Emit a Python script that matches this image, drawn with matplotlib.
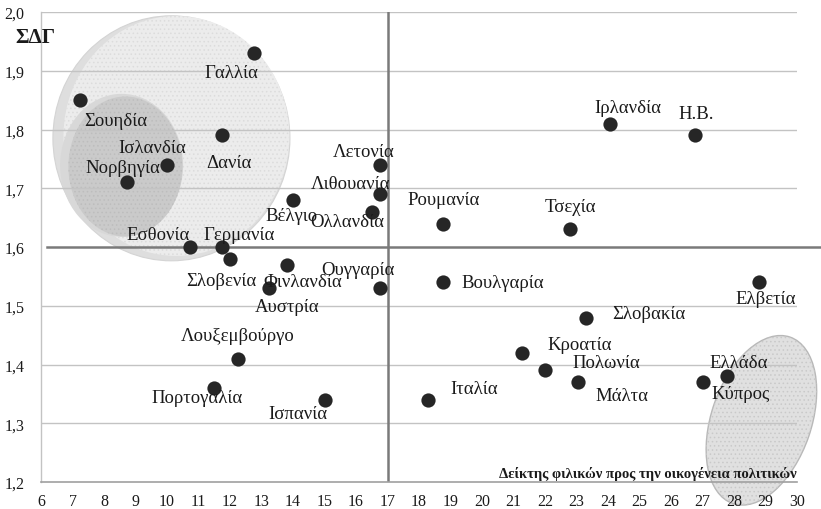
import matplotlib
matplotlib.use("Agg")
import matplotlib.pyplot as plt
import matplotlib.transforms as mtransforms
from matplotlib.patches import Ellipse
from matplotlib.ticker import FuncFormatter

# --- data ---
countries = ["Γαλλία", "Σουηδία", "Ισλανδία", "Νορβηγία", "Δανία", "Λετονία",
             "Λιθουανία", "Βέλγιο", "Ολλανδία", "Εσθονία", "Γερμανία", "Ρουμανία",
             "Τσεχία", "Ιρλανδία", "Η.Β.", "Σλοβενία", "Φινλανδία", "Ουγγαρία",
             "Αυστρία", "Λουξεμβούργο", "Πορτογαλία", "Ισπανία", "Βουλγαρία",
             "Ελβετία", "Σλοβακία", "Κροατία", "Πολωνία", "Ελλάδα", "Κύπρος",
             "Μάλτα", "Ιταλία"]
family_index = [12.76, 7.24, 10.0, 8.73, 11.75, 16.76,
                16.76, 14.0, 16.5, 10.73, 11.75, 18.76,
                22.8, 24.05, 26.76, 12.0, 13.8, 16.76,
                13.24, 12.25, 11.5, 15.0, 18.76,
                28.8, 23.3, 21.27, 22.0, 27.78, 27.0,
                23.05, 18.29]
sdg = [1.93, 1.85, 1.74, 1.71, 1.79, 1.74,
       1.69, 1.68, 1.66, 1.60, 1.60, 1.64,
       1.63, 1.81, 1.79, 1.58, 1.57, 1.53,
       1.53, 1.41, 1.36, 1.34, 1.54,
       1.54, 1.48, 1.42, 1.39, 1.38, 1.37,
       1.37, 1.34]

x_ticks = list(range(6, 31))
y_ticks = [1.2, 1.3, 1.4, 1.5, 1.6, 1.7, 1.8, 1.9, 2.0]
x_split = 17
y_split = 1.6

# label offsets from the marker, in pixels (dx, dy)
label_offsets = {
    "Γαλλία": (-23, -19), "Σουηδία": (36, -20), "Ισλανδία": (-15, 17),
    "Νορβηγία": (-4, 15), "Δανία": (7, -27), "Λετονία": (-16, 13),
    "Λιθουανία": (-29, 11), "Βέλγιο": (-1, -15), "Ολλανδία": (-25, -10),
    "Εσθονία": (-32, 12), "Γερμανία": (17, 12), "Ρουμανία": (1, 24),
    "Τσεχία": (0, 23), "Ιρλανδία": (18, 16), "Η.Β.": (1, 22),
    "Σλοβενία": (-9, -22), "Φινλανδία": (16, -17), "Ουγγαρία": (-22, 19),
    "Αυστρία": (18, -18), "Λουξεμβούργο": (0, 23), "Πορτογαλία": (-17, -10),
    "Ισπανία": (-27, -14), "Βουλγαρία": (60, 0), "Ελβετία": (7, -16),
    "Σλοβακία": (63, 4), "Κροατία": (58, 8), "Πολωνία": (61, 8),
    "Ελλάδα": (12, 14), "Κύπρος": (38, -11), "Μάλτα": (44, -13),
    "Ιταλία": (46, 11),
}

serif = ["Liberation Serif", "DejaVu Serif"]
plt.rcParams['font.family'] = serif
plt.rcParams['hatch.linewidth'] = 0.6

W, H = 821, 510
fig = plt.figure(figsize=(W / 100, H / 100), dpi=100)
ax = fig.add_axes([41 / W, 27 / H, 756 / W, 470 / H])
ax.set_xlim(6, 30)
ax.set_ylim(1.2, 2.0)


def blob(cx, cy, w_px, h_px, angle, face, edge, z, lw=0.8, dots=None):
    # ellipse sized in pixels, centred on a data point
    tr = fig.dpi_scale_trans + mtransforms.ScaledTranslation(cx, cy, ax.transData)
    e = Ellipse((0, 0), w_px / 100, h_px / 100, angle=angle, transform=tr,
                facecolor=face, edgecolor=edge, linewidth=lw, zorder=z,
                clip_on=False)
    ax.add_patch(e)
    if dots:
        # fine dotted texture on top of the fill
        d = Ellipse((0, 0), w_px / 100, h_px / 100, angle=angle, transform=tr,
                    facecolor="none", edgecolor=dots, linewidth=0, hatch="....",
                    zorder=z + 0.01, clip_on=False)
        ax.add_patch(d)


# highlighted groups
blob(10.14, 1.785, 237, 245, 0, "#dedede", "#d4d4d4", 0.2)
blob(10.30, 1.789, 226, 240, 0, "#ececec", "none", 0.3, dots="#dcdcdc")
blob(8.56, 1.739, 123, 143, 0, "#d8d8d8", "none", 0.4)
blob(8.68, 1.737, 114, 140, 0, "#cacaca", "none", 0.45, dots="#bdbdbd")
blob(28.87, 1.305, 100, 176, -19, "#e0e0e0", "#b8b8b8", 0.4, lw=1.0,
     dots="#c9c9c9")

# grid lines
for yv in y_ticks[1:]:
    if yv == y_split:
        continue
    ax.axhline(yv, color="#c3c3c3", lw=1.0, zorder=1)

ax.axvline(x_split, color="#7a7a7a", lw=1.8, zorder=2)
ax.plot([6.2, 30.8], [y_split, y_split], color="#7a7a7a", lw=1.8,
        zorder=2, clip_on=False)

ax.scatter(family_index, sdg, s=105, color="#262626", zorder=3, linewidths=0)

for name, xv, yv in zip(countries, family_index, sdg):
    dx, dy = label_offsets[name]
    ax.annotate(name, (xv, yv), xytext=(dx, dy), textcoords="offset pixels",
                ha="center", va="center", fontsize=13.5, color="#1a1a1a",
                zorder=4)

for side in ["top", "right"]:
    ax.spines[side].set_visible(False)
ax.spines["left"].set_color("#c3c3c3")
ax.spines["bottom"].set_color("#a0a0a0")
ax.spines["left"].set_linewidth(1.0)
ax.spines["bottom"].set_linewidth(1.2)

ax.set_xticks(x_ticks)
ax.set_yticks(y_ticks)
ax.yaxis.set_major_formatter(FuncFormatter(lambda v, p: f"{v:.1f}".replace(".", ",")))
ax.tick_params(axis="both", length=0, labelsize=11.5, colors="#1a1a1a")
ax.tick_params(axis="x", pad=8)
ax.tick_params(axis="y", pad=12)

fig.text(15 / W, 1 - 38 / H, "ΣΔΓ", fontsize=15, fontweight="bold",
         ha="left", va="center", color="#1a1a1a")
ax.text(30, 1.2 + 9 / 587.5, "Δείκτης φιλικών προς την οικογένεια πολιτικών",
        fontsize=10.5, fontweight="bold", ha="right", va="center",
        color="#1a1a1a", zorder=4)

fig.savefig("out.png", dpi=100)
